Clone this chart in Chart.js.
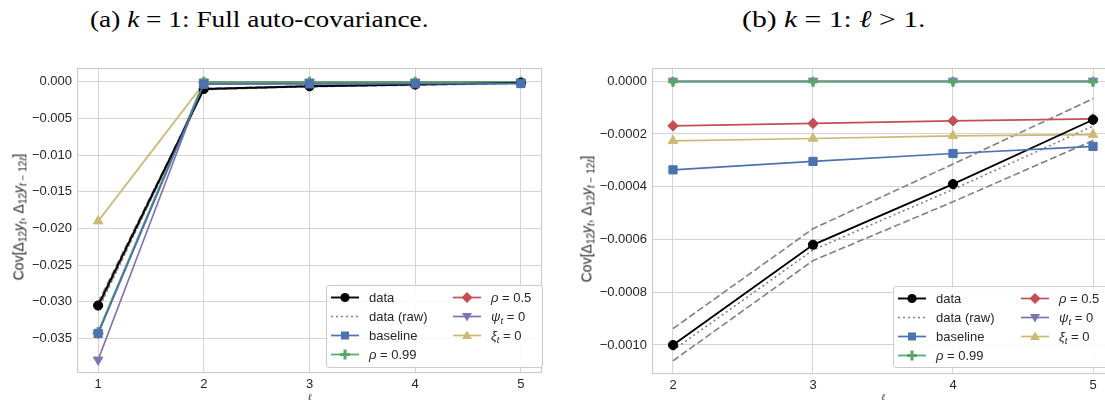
<!DOCTYPE html>
<html>
<head>
<meta charset="utf-8">
<script src="https://cdn.jsdelivr.net/npm/chart.js@4/dist/chart.umd.min.js"></script>
<style>
  html, body { margin:0; padding:0; background:#fff; overflow:hidden; width:1105px; height:403px; }
  #wrap { position:relative; width:1105px; height:403px; overflow:hidden; }
  canvas { position:absolute; }
  .title { position:absolute; font-family:"Liberation Serif","DejaVu Serif",serif; font-size:24px; color:#000; white-space:nowrap; top:6px; transform-origin:left center; }
  .ylab { position:absolute; font-family:"Liberation Sans",Arial,sans-serif; font-size:14px; color:#262626; white-space:nowrap; transform-origin:center center; }
  .ylab sub { font-size:10px; vertical-align:-3px; }
  .legend { position:absolute; background:rgba(255,255,255,0.85); border:1px solid #cccccc; border-radius:3px; font-family:"Liberation Sans",Arial,sans-serif; font-size:13px; color:#262626; }
  .legend .row { position:absolute; height:19px; line-height:19px; white-space:nowrap; }
  .legend svg { position:absolute; top:3px; }
  .legend .lbl { position:absolute; top:0; }
  .legend sub { font-size:9.5px; vertical-align:-3px; font-style:italic; }
  i { font-style:italic; }
</style>
</head>
<body>
<div id="wrap">
  <div class="title" id="tA">(a) <i>k</i> = 1: Full auto-covariance.</div>
  <div class="title" id="tB">(b) <i>k</i> = 1: <i>ℓ</i> &gt; 1.</div>
  <canvas id="cA" width="550" height="348" style="left:0px;top:55px;"></canvas>
  <canvas id="cB" width="565" height="348" style="left:560px;top:55px;"></canvas>
  <div class="ylab" id="yA">Cov[Δ<sub>12</sub><i>y</i><sub><i>t</i></sub>, Δ<sub>12</sub><i>y</i><sub><i>t</i> − 12<i>ℓ</i></sub>]</div>
  <div class="ylab" id="yB">Cov[Δ<sub>12</sub><i>y</i><sub><i>t</i></sub>, Δ<sub>12</sub><i>y</i><sub><i>t</i> − 12<i>ℓ</i></sub>]</div>
  <div class="legend" id="legA"></div>
  <div class="legend" id="legB"></div>
</div>
<script>
// ---------------- DATA ----------------
const lagsA = [1, 2, 3, 4, 5];
const lagsB = [2, 3, 4, 5];

// Panel (a): full auto-covariance, lags 1..5
const dataA     = [-0.0305, -0.00099, -0.00062, -0.00039, -0.00015];
const dataRawA  = [-0.0311, -0.00102, -0.00064, -0.00041, -0.00017];
const bandUpA   = [-0.0301, -0.00094, -0.00056, -0.00031, -0.000066];
const bandLoA   = [-0.0309, -0.00106, -0.00068, -0.00046, -0.000225];
const baselineA = [-0.0343, -0.000336, -0.000304, -0.000274, -0.000247];
const rho99A    = [-0.0341, -0.000002, -0.000002, -0.000002, -0.000002];
const rho05A    = [-0.0343, -0.000169, -0.00016, -0.00015, -0.000143];
const psi0A     = [-0.0379, 0.000001, 0.000001, 0.000001, 0.000001];
const xi0A      = [-0.0190, -0.000226, -0.000217, -0.000207, -0.000202];

// Panel (b): lags 2..5
const dataB     = [-0.00100, -0.00062, -0.00039, -0.000146];
const dataRawB  = [-0.00102, -0.00064, -0.00041, -0.00017];
const bandUpB   = [-0.000938, -0.000559, -0.000314, -0.000066];
const bandLoB   = [-0.00106, -0.00068, -0.000457, -0.000225];
const baselineB = [-0.000336, -0.000304, -0.000274, -0.000247];
const rho99B    = [-0.000002, -0.000002, -0.000002, -0.000002];
const rho05B    = [-0.000169, -0.00016, -0.00015, -0.000143];
const psi0B     = [0.000001, 0.000001, 0.000001, 0.000001];
const xi0B      = [-0.000226, -0.000217, -0.000207, -0.000202];

// Tick labels
const xTicksA = [1, 2, 3, 4, 5];
const xTicksB = [2, 3, 4, 5];
const yTicksA = [0, -0.005, -0.010, -0.015, -0.020, -0.025, -0.030, -0.035];
const yTicksB = [0, -0.0002, -0.0004, -0.0006, -0.0008, -0.0010];

// Legend labels
const seriesNames = ['data', 'data (raw)', 'baseline', 'ρ = 0.99', 'ρ = 0.5', 'ψt = 0', 'ξt = 0'];

// ---------------- STYLE ----------------
const C = { data:'#000000', raw:'#808080', band:'#808080', blue:'#4C72B0', green:'#55A868', red:'#C44E52', purple:'#8172B2', yellow:'#CCB974' };
const FONT = '"Liberation Sans", Arial, sans-serif';

function pts(xs, ys) { return xs.map((x, i) => ({ x: x, y: ys[i] })); }

function makeDatasets(lags, d) {
  return [
    { label:'band upper', data:pts(lags, d.up), borderColor:C.band, borderWidth:1.6, borderDash:[7,3], pointRadius:0, order:8 },
    { label:'band lower', data:pts(lags, d.lo), borderColor:C.band, borderWidth:1.6, borderDash:[7,3], pointRadius:0, order:9 },
    { label:seriesNames[1], data:pts(lags, d.raw), borderColor:C.raw, borderWidth:1.6, borderDash:[2,3], pointRadius:0, order:7 },
    { label:seriesNames[6], data:pts(lags, d.xi), borderColor:C.yellow, backgroundColor:C.yellow, borderWidth:1.7, pointStyle:'triangle', pointRadius:5.5, pointBorderWidth:1, order:6 },
    { label:seriesNames[4], data:pts(lags, d.rho05), borderColor:C.red, backgroundColor:C.red, borderWidth:1.7, pointStyle:'rectRot', pointRadius:5.2, pointBorderWidth:1, order:5 },
    { label:seriesNames[5], data:pts(lags, d.psi), borderColor:C.purple, backgroundColor:C.purple, borderWidth:1.7, pointStyle:'triangle', pointRotation:180, pointRadius:5.5, pointBorderWidth:1, order:4 },
    { label:seriesNames[3], data:pts(lags, d.rho99), borderColor:C.green, backgroundColor:C.green, borderWidth:1.7, pointStyle:'cross', pointRadius:5, pointBorderWidth:3, order:3 },
    { label:seriesNames[0], data:pts(lags, d.data), borderColor:C.data, backgroundColor:C.data, borderWidth:1.9, pointStyle:'circle', pointRadius:4.6, pointBorderWidth:1, order:1 },
    { label:seriesNames[2], data:pts(lags, d.base), borderColor:C.blue, backgroundColor:C.blue, borderWidth:1.7, pointStyle:'rect', pointRadius:5.8, pointBorderWidth:1, order:0 }
  ].map(ds => Object.assign({ fill:false, tension:0, pointHoverRadius:ds.pointRadius }, ds));
}

const framePlugin = {
  id:'frame',
  afterDatasetsDraw(chart) {
    const a = chart.chartArea, ctx = chart.ctx;
    ctx.save();
    ctx.strokeStyle = '#cccccc';
    ctx.lineWidth = 1.2;
    ctx.strokeRect(Math.round(a.left) + 0.5, Math.round(a.top) + 0.5, Math.round(a.right - a.left) - 1, Math.round(a.bottom - a.top) - 1);
    ctx.restore();
  }
};

function makeChart(id, datasets, xr, yr, xTicks, yTicks, decimals, pad, xH) {
  return new Chart(document.getElementById(id), {
    type:'line',
    data:{ datasets: datasets },
    options:{
      responsive:false, animation:false, devicePixelRatio:1,
      layout:{ padding: pad },
      plugins:{ legend:{ display:false }, tooltip:{ enabled:false } },
      scales:{
        x:{
          type:'linear', min:xr[0], max:xr[1],
          afterBuildTicks: s => { s.ticks = xTicks.map(v => ({ value:v })); },
          afterFit: s => { s.height = xH; },
          grid:{ color:'#d4d4d4', lineWidth:1, drawTicks:false },
          border:{ display:false },
          ticks:{ padding:4, color:'#262626', font:{ family:FONT, size:13 }, maxRotation:0, callback: v => String(v) },
          title:{ display:true, text:'ℓ', color:'#262626', padding:{ top:0, bottom:0 }, font:{ family:'"DejaVu Serif", serif', size:9, style:'italic' } }
        },
        y:{
          type:'linear', min:yr[0], max:yr[1],
          afterBuildTicks: s => { s.ticks = yTicks.map(v => ({ value:v })); },
          afterFit: s => { s.width = pad.yW; },
          grid:{ color:'#d4d4d4', lineWidth:1, drawTicks:false },
          border:{ display:false },
          ticks:{ padding:5, color:'#262626', font:{ family:FONT, size:13 },
            callback: v => (v < 0 ? '\u2212' : '') + Math.abs(v).toFixed(decimals) }
        }
      }
    },
    plugins:[framePlugin]
  });
}

const dsA = makeDatasets(lagsA, { up:bandUpA, lo:bandLoA, raw:dataRawA, xi:xi0A, rho05:rho05A, psi:psi0A, rho99:rho99A, data:dataA, base:baselineA });
const dsB = makeDatasets(lagsB, { up:bandUpB, lo:bandLoB, raw:dataRawB, xi:xi0B, rho05:rho05B, psi:psi0B, rho99:rho99B, data:dataB, base:baselineB });

makeChart('cA', dsA, [0.8, 5.2], [-0.0397, 0.0019], xTicksA, yTicksA, 3, { top:7, right:3, bottom:0, left:0, yW:77 }, 30);
makeChart('cB', dsB, [1.85, 5.15], [-0.00111, 0.000051], xTicksB, yTicksB, 4, { top:7, right:11, bottom:0, left:0, yW:92 }, 29);

// ---------------- HTML text placement ----------------
function fitTitle(id, x0, x1) {
  const el = document.getElementById(id);
  const w = el.offsetWidth;
  const s = (x1 - x0) / w;
  el.style.left = x0 + 'px';
  el.style.transform = 'scaleX(' + s + ')';
}
fitTitle('tA', 90, 428);
fitTitle('tB', 742, 925);

function placeYLabel(id, cx, cy) {
  const el = document.getElementById(id);
  const w = el.offsetWidth, h = el.offsetHeight;
  el.style.left = (cx - w / 2) + 'px';
  el.style.top = (cy - h / 2) + 'px';
  el.style.transform = 'rotate(-90deg)';
}
placeYLabel('yA', 19, 217);
placeYLabel('yB', 587, 219);

// ---------------- Legends ----------------
function icon(kind) {
  const W = 28, H = 13, cy = 6.5, cx = 14;
  let line = '', mark = '';
  const ln = (col, dash, w) => `<line x1="0" y1="${cy}" x2="${W}" y2="${cy}" stroke="${col}" stroke-width="${w}" ${dash ? `stroke-dasharray="${dash}"` : ''}/>`;
  switch (kind) {
    case 0: line = ln(C.data, '', 1.9); mark = `<circle cx="${cx}" cy="${cy}" r="4.6" fill="${C.data}"/>`; break;
    case 1: line = ln(C.raw, '2,3', 1.6); break;
    case 2: line = ln(C.blue, '', 1.7); mark = `<rect x="${cx-4}" y="${cy-4}" width="8" height="8" fill="${C.blue}"/>`; break;
    case 3: line = ln(C.green, '', 1.7); mark = `<path d="M${cx-5} ${cy}H${cx+5}M${cx} ${cy-5}V${cy+5}" stroke="${C.green}" stroke-width="3"/>`; break;
    case 4: line = ln(C.red, '', 1.7); mark = `<path d="M${cx} ${cy-5.5}L${cx+5.5} ${cy}L${cx} ${cy+5.5}L${cx-5.5} ${cy}Z" fill="${C.red}"/>`; break;
    case 5: line = ln(C.purple, '', 1.7); mark = `<path d="M${cx-5} ${cy-3.5}L${cx+5} ${cy-3.5}L${cx} ${cy+5}Z" fill="${C.purple}"/>`; break;
    case 6: line = ln(C.yellow, '', 1.7); mark = `<path d="M${cx-5} ${cy+3.5}L${cx+5} ${cy+3.5}L${cx} ${cy-5}Z" fill="${C.yellow}"/>`; break;
  }
  return `<svg width="${W}" height="${H}" viewBox="0 0 ${W} ${H}">${line}${mark}</svg>`;
}
const labelHTML = [
  'data', 'data (raw)', 'baseline',
  '<i>ρ</i> = 0.99', '<i>ρ</i> = 0.5', '<i>ψ</i><sub>t</sub> = 0', '<i>ξ</i><sub>t</sub> = 0'
];
function buildLegend(id, box, col2x) {
  const el = document.getElementById(id);
  el.style.left = box.x + 'px'; el.style.top = box.y + 'px';
  el.style.width = box.w + 'px'; el.style.height = box.h + 'px';
  let html = '';
  for (let i = 0; i < 7; i++) {
    const col = i < 4 ? 0 : 1, row = i < 4 ? i : i - 4;
    const x = col === 0 ? 4 : col2x;
    html += `<div class="row" style="left:${x}px;top:${2 + row * 19}px">${icon(i)}<span class="lbl" style="left:38px">${labelHTML[i]}</span></div>`;
  }
  el.innerHTML = html;
}
buildLegend('legA', { x:326, y:285, w:215, h:81 }, 126);
buildLegend('legB', { x:893, y:286, w:225, h:80 }, 127);
</script>
</body>
</html>
